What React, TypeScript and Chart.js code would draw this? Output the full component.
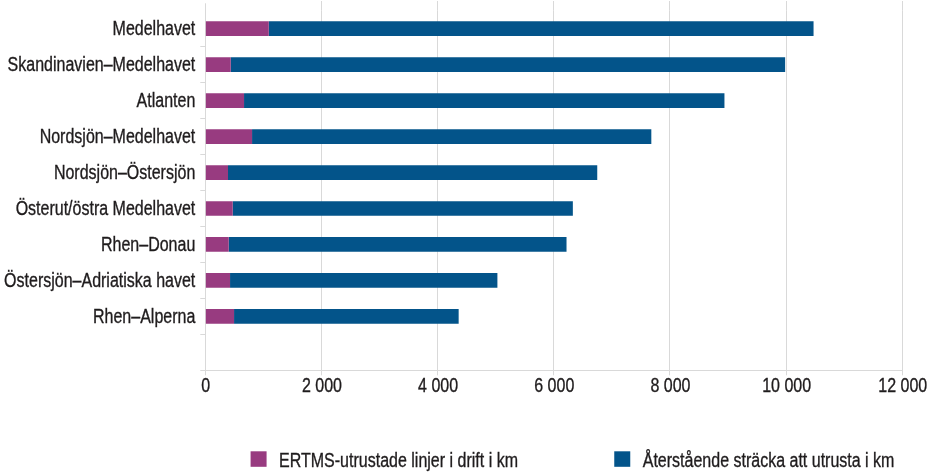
import React, { useEffect, useRef } from 'react';
import { Chart, registerables } from 'chart.js';

Chart.register(...registerables);

const categories = [
  'Medelhavet',
  'Skandinavien–Medelhavet',
  'Atlanten',
  'Nordsjön–Medelhavet',
  'Nordsjön–Östersjön',
  'Österut/östra Medelhavet',
  'Rhen–Donau',
  'Östersjön–Adriatiska havet',
  'Rhen–Alperna',
  '',
];

const ertmsKm = [1093, 438, 667, 805, 391, 472, 403, 426, 495];
const remainingKm = [9379, 9545, 8271, 6874, 6357, 5856, 5816, 4603, 3867];

const seriesLabels = ['ERTMS-utrustade linjer i drift i km', 'Återstående sträcka att utrusta i km'];
const seriesColors = ['#983b80', '#03548a'];

const xTickLabels = ['0', '2 000', '4 000', '6 000', '8 000', '10 000', '12 000'];
const xMin = 0;
const xMax = 12000;
const xStep = 2000;

// Condensed look: Liberation Sans drawn with a horizontal squeeze
const FONT = "20px 'Liberation Sans', Arimo, Arial, sans-serif";
const SQUEEZE = 0.8;
const TEXT_COLOR = '#1f1c1d';
const GRID_COLOR = '#d9d9d9';

function drawNarrow(ctx: CanvasRenderingContext2D, text: string, x: number, y: number, align: CanvasTextAlign) {
  ctx.save();
  ctx.translate(x, y);
  ctx.scale(SQUEEZE, 1);
  ctx.textAlign = align;
  ctx.textBaseline = 'alphabetic';
  ctx.lineWidth = 0.35;
  ctx.strokeStyle = TEXT_COLOR;
  ctx.fillText(text, 0, 0);
  ctx.strokeText(text, 0, 0);
  ctx.restore();
}

const align = (px: number) => Math.round(px - 0.5) + 0.5;

// vertical grid lines run a little above the plot, as in the original
const gridExtension = {
  id: 'gridExtension',
  beforeDatasetsDraw(chart: any) {
    const ctx = chart.ctx as CanvasRenderingContext2D;
    const xs = chart.scales.x;
    const top = chart.chartArea.top;
    ctx.save();
    ctx.strokeStyle = GRID_COLOR;
    ctx.lineWidth = 1;
    xs.ticks.forEach((t: any, i: number) => {
      const x = align(xs.getPixelForValue(t.value));
      ctx.beginPath();
      ctx.moveTo(x, i === 0 ? 3.3 : 1);
      ctx.lineTo(x, top);
      ctx.stroke();
    });
    ctx.restore();
  },
};

const narrowText = {
  id: 'narrowText',
  afterDraw(chart: any) {
    const ctx = chart.ctx as CanvasRenderingContext2D;
    ctx.save();
    ctx.font = FONT;
    ctx.fillStyle = TEXT_COLOR;

    // y axis category labels
    const ys = chart.scales.y;
    (chart.data.labels as string[]).forEach((lab, i) => {
      if (!lab) return;
      drawNarrow(ctx, lab, ys.right - 10, ys.getPixelForValue(i) + 6.2, 'right');
    });

    // x axis tick labels
    const xs = chart.scales.x;
    xs.ticks.forEach((t: any, i: number) => {
      const lab = xTickLabels[i];
      if (lab === undefined) return;
      drawNarrow(ctx, lab, xs.getPixelForValue(t.value) + 0.5, xs.top + 21.4, 'center');
    });

    // legend
    const ds = chart.data.datasets;
    const boxW = 16;
    const boxH = 15.5;
    const textGap = 28.5;
    const itemGap = 96.3;
    const widths = ds.map((d: any) => ctx.measureText(d.label).width * SQUEEZE);
    const total = widths.reduce((a: number, w: number) => a + textGap + w, 0) + itemGap * (ds.length - 1);
    let x = 572.5 - total / 2;
    const boxTop = 451.3;
    const baseline = 466.6;
    ds.forEach((d: any, i: number) => {
      ctx.fillStyle = d.backgroundColor;
      ctx.fillRect(x, boxTop, boxW, boxH);
      ctx.fillStyle = TEXT_COLOR;
      drawNarrow(ctx, d.label, x + textGap, baseline, 'left');
      x += textGap + widths[i] + itemGap;
    });
    ctx.restore();
  },
};

export default function App() {
  const canvasRef = useRef<HTMLCanvasElement | null>(null);

  useEffect(() => {
    document.body.style.margin = '0';
    const canvas = canvasRef.current;
    if (!canvas) return;
    const chart = new Chart(canvas, {
      type: 'bar',
      data: {
        labels: categories,
        datasets: [
          {
            label: seriesLabels[0],
            data: ertmsKm,
            backgroundColor: seriesColors[0],
            borderWidth: 0,
            barPercentage: 0.41,
            categoryPercentage: 1,
          },
          {
            label: seriesLabels[1],
            data: remainingKm,
            backgroundColor: seriesColors[1],
            borderWidth: 0,
            barPercentage: 0.41,
            categoryPercentage: 1,
          },
        ],
      },
      options: {
        indexAxis: 'y',
        responsive: false,
        animation: false,
        devicePixelRatio: 1,
        layout: { padding: { top: 10.75, right: 25.7, bottom: 0, left: 0 } },
        plugins: {
          legend: { display: false },
          tooltip: { enabled: false },
        },
        scales: {
          x: {
            stacked: true,
            min: xMin,
            max: xMax,
            ticks: { stepSize: xStep, display: false },
            grid: { color: GRID_COLOR, tickLength: 5, lineWidth: 1 },
            border: { color: GRID_COLOR },
            afterFit: (s: any) => {
              s.height = 101.7;
              s.paddingLeft = 0;
              s.paddingRight = 0;
            },
          },
          y: {
            stacked: true,
            ticks: { display: false },
            grid: {
              drawOnChartArea: false,
              tickLength: 5,
              color: (c: any) => (c.index === 0 ? 'rgba(0,0,0,0)' : GRID_COLOR),
            },
            border: { color: GRID_COLOR },
            afterFit: (s: any) => {
              s.width = 205.3;
              s.paddingTop = 0;
              s.paddingBottom = 0;
            },
          },
        },
      },
      plugins: [gridExtension, narrowText],
    });
    return () => chart.destroy();
  }, []);

  return (
    <div style={{ width: 928, height: 472 }}>
      <canvas ref={canvasRef} width={928} height={472} style={{ display: 'block' }} />
    </div>
  );
}
